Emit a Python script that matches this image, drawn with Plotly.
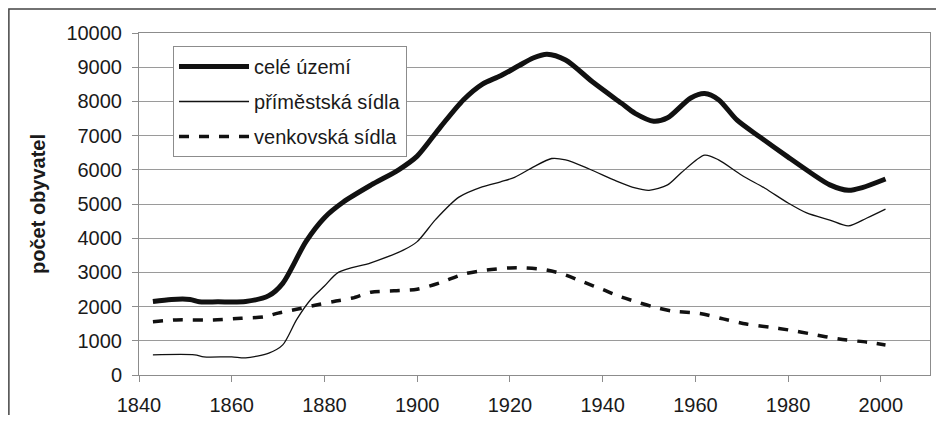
import plotly.graph_objects as go

# --- data ---
years_total = [1843, 1847, 1851, 1853, 1857, 1863, 1868, 1871, 1876, 1880, 1884, 1890, 1896, 1900,
               1905, 1910, 1914, 1918, 1922, 1925, 1928, 1932, 1938, 1944, 1947, 1951, 1954, 1959,
               1962, 1965, 1969, 1974, 1980, 1985, 1989, 1993, 1996, 2001]
celé_území = [2150, 2210, 2210, 2140, 2140, 2150, 2320, 2680, 3900, 4600, 5050, 5550, 6000, 6400,
              7250, 8050, 8500, 8750, 9050, 9270, 9380, 9210, 8550, 7950, 7650, 7420, 7520, 8100,
              8230, 8050, 7450, 6950, 6370, 5900, 5560, 5400, 5480, 5730]

years_sub = [1843, 1852, 1854, 1860, 1863, 1868, 1871, 1874, 1877, 1880, 1883, 1890, 1897, 1900,
             1904, 1909, 1914, 1918, 1921, 1925, 1929, 1932, 1937, 1943, 1947, 1950, 1954, 1957,
             1962, 1965, 1970, 1975, 1980, 1984, 1989, 1993, 1997, 2001]
příměstská = [590, 590, 530, 530, 500, 640, 880, 1620, 2200, 2600, 3000, 3280, 3650, 3900,
              4550, 5200, 5500, 5650, 5780, 6080, 6330, 6290, 6030, 5670, 5470, 5400, 5560, 5920,
              6430, 6290, 5840, 5460, 5030, 4740, 4530, 4360, 4590, 4850]

years_rural = [1843, 1848, 1856, 1862, 1867, 1870, 1874, 1879, 1882, 1886, 1890, 1895, 1900, 1905,
               1910, 1915, 1920, 1923, 1927, 1931, 1936, 1940, 1944, 1948, 1951, 1955, 1961, 1966,
               1971, 1976, 1980, 1985, 1991, 1997, 2001]
venkovská = [1560, 1610, 1610, 1660, 1700, 1810, 1920, 2070, 2150, 2250, 2420, 2460, 2510, 2700,
             2950, 3070, 3130, 3130, 3090, 2970, 2710, 2500, 2280, 2110, 1990, 1870, 1800, 1640,
             1490, 1400, 1320, 1200, 1050, 960, 880]

x_ticks = [1840, 1860, 1880, 1900, 1920, 1940, 1960, 1980, 2000]
y_ticks = list(range(0, 10001, 1000))

FONT = "Liberation Sans, Arial, sans-serif"
TXT = "#1a1a1a"
GRID = "#9a9a9a"

fig = go.Figure()
fig.add_trace(go.Scatter(x=years_total, y=celé_území, name="celé území", mode="lines",
                         line=dict(color="#111111", width=5, shape="spline", smoothing=0.8),
                         legendgroup="a"))
fig.add_trace(go.Scatter(x=years_sub, y=příměstská, name="příměstská sídla", mode="lines",
                         line=dict(color="#111111", width=1.3, shape="spline", smoothing=0.8),
                         legendgroup="b"))
fig.add_trace(go.Scatter(x=years_rural, y=venkovská, name="venkovská sídla", mode="lines",
                         line=dict(color="#111111", width=3.5, shape="spline", smoothing=0.8,
                                   dash="10px,10px"),
                         legendgroup="c"))

# page body has an 8px margin: figure origin sits at (8, 8) in the window
fig.update_layout(
    width=928, height=407,
    margin=dict(l=131, r=6, t=25, b=40),
    paper_bgcolor="white", plot_bgcolor="white",
    font=dict(family=FONT, size=20, color=TXT),
    showlegend=True,
    legend=dict(x=0.043, y=0.962, xanchor="left", yanchor="top",
                bgcolor="white", bordercolor="#8c8c8c", borderwidth=1,
                font=dict(family=FONT, size=20, color=TXT),
                tracegroupgap=6, itemwidth=70),
    xaxis=dict(range=[1840, 2010.6], tickvals=x_ticks, ticktext=[str(v) for v in x_ticks],
               automargin=False,
               showgrid=False, zeroline=False, showline=True, linecolor="#8c8c8c", linewidth=1,
               mirror=True, ticks="outside", ticklen=6, tickcolor="#8c8c8c",
               ticklabelstandoff=6, tickfont=dict(size=20, color=TXT)),
    yaxis=dict(range=[0, 10000], tickvals=y_ticks, ticktext=[str(v) for v in y_ticks],
               automargin=False,
               showgrid=True, gridcolor=GRID, gridwidth=1,
               zeroline=False, showline=True, linecolor="#8c8c8c", linewidth=1, mirror=True,
               ticks="outside", ticklen=6, tickcolor="#8c8c8c", ticklabelstandoff=6,
               tickfont=dict(size=20, color=TXT),
               title=dict(text="<b>počet obyvatel</b>", font=dict(size=20, color=TXT))),
    shapes=[dict(type="rect", xref="paper", yref="paper",
                 x0=-0.1645, x1=1.05, y0=-0.2, y1=1.0702,
                 line=dict(color="#444444", width=1.5), fillcolor="rgba(0,0,0,0)", layer="below")],
)

fig.write_html("out.html")
